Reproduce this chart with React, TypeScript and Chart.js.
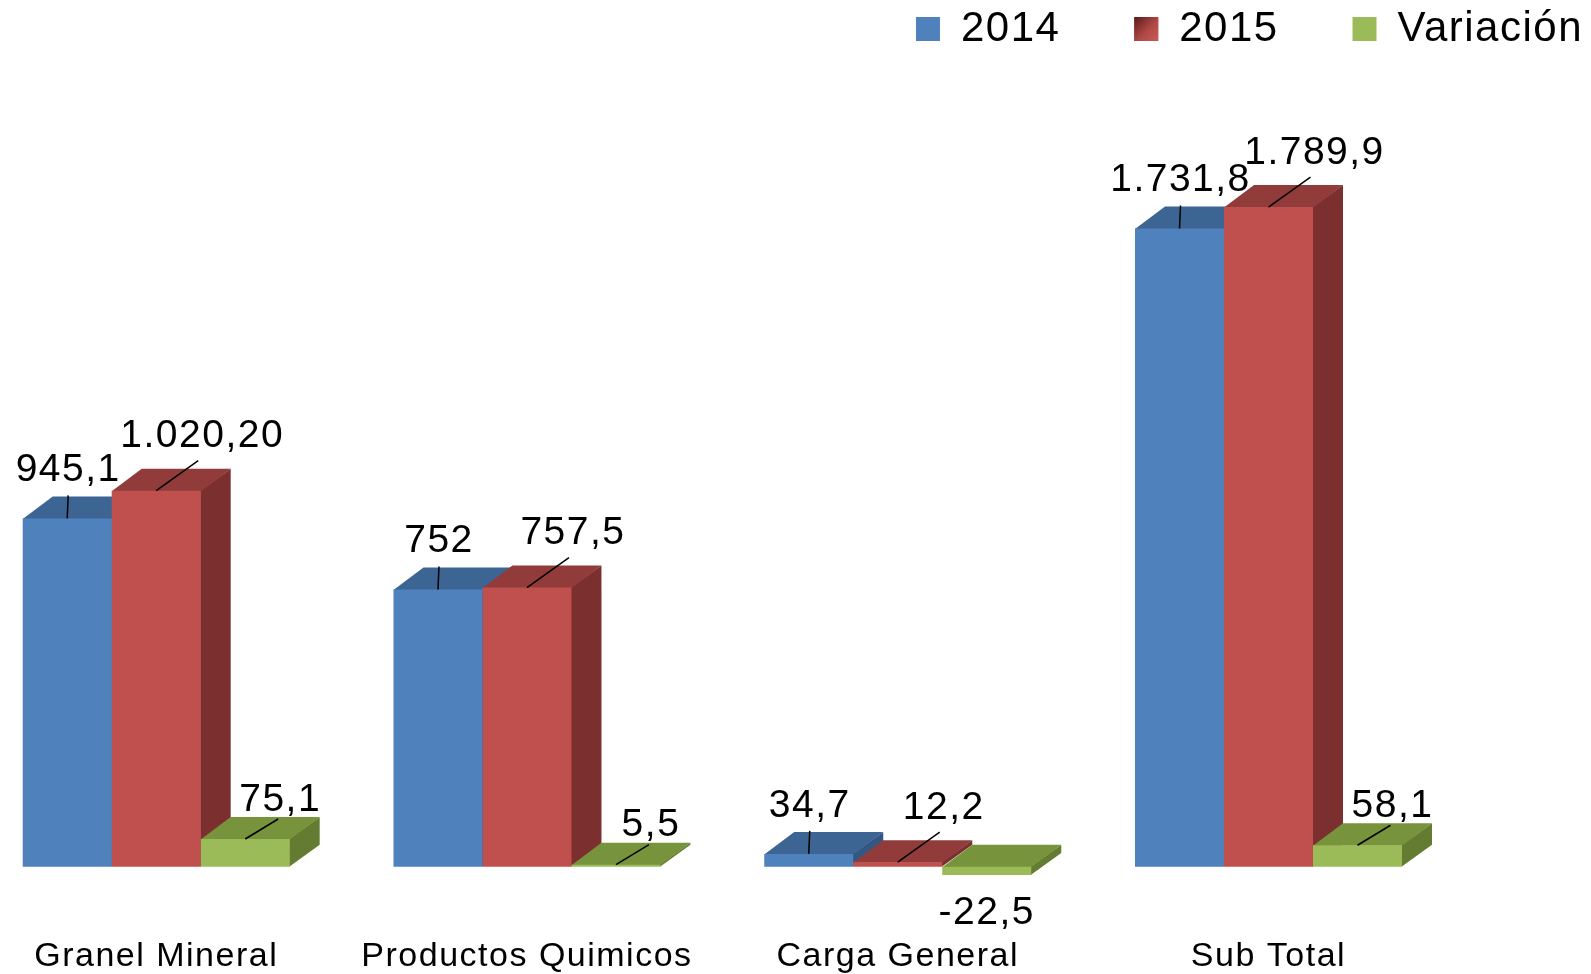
import React, { useEffect, useRef } from 'react';
import { Chart, registerables } from 'chart.js';

Chart.register(...registerables);

// ---- data ----
const categories = ['Granel Mineral', 'Productos Quimicos', 'Carga General', 'Sub Total'];
const seriesNames = ['2014', '2015', 'Variación'];
const values2014 = [945.1, 752, 34.7, 1731.8];
const values2015 = [1020.2, 757.5, 12.2, 1789.9];
const valuesVariacion = [75.1, 5.5, -22.5, 58.1];
const labels2014 = ['945,1', '752', '34,7', '1.731,8'];
const labels2015 = ['1.020,20', '757,5', '12,2', '1.789,9'];
const labelsVariacion = ['75,1', '5,5', '-22,5', '58,1'];
const Y_MIN = -199;
const Y_MAX = 2189;

// ---- styles ----
const FONT = '"Liberation Sans", Arial, sans-serif';
const FRONT = ['#4F81BD', '#C0504D', '#9BBB59'];
const TOP = ['#3D6594', '#913C3A', '#77933C'];
const SIDE = ['#345782', '#7B2F2E', '#637C32'];
const DEPTH_X = 30;
const DEPTH_Y = 22;
const LEADER = [
  { dx: 1, dy: -23, lx: 1, ly: -48 },
  { dx: 42, dy: -30, lx: 46, ly: -54 },
  { dx: 33, dy: -20, lx: 35, ly: -39 },
];
const valueLabels = [labels2014, labels2015, labelsVariacion];

const bar3d = {
  id: 'bar3d',
  beforeLayout(chart: any) {
    chart.ctx.letterSpacing = '1.5px';
  },
  beforeDraw(chart: any) {
    chart.ctx.letterSpacing = '1.5px';
  },
  beforeDatasetsDraw(chart: any) {
    const ctx = chart.ctx;
    for (let i = 0; i < categories.length; i++) {
      for (let d = 0; d < chart.data.datasets.length; d++) {
        const el = chart.getDatasetMeta(d).data[i];
        if (!el) continue;
        const { x, y, base, width } = el.getProps(['x', 'y', 'base', 'width'], true);
        const left = x - width / 2;
        const right = x + width / 2;
        const top = Math.min(y, base);
        const bottom = Math.max(y, base);
        ctx.save();
        ctx.fillStyle = SIDE[d];
        ctx.beginPath();
        ctx.moveTo(right - 0.5, top);
        ctx.lineTo(right + DEPTH_X, top - DEPTH_Y);
        ctx.lineTo(right + DEPTH_X, bottom - DEPTH_Y);
        ctx.lineTo(right - 0.5, bottom);
        ctx.closePath();
        ctx.fill();
        ctx.fillStyle = TOP[d];
        ctx.beginPath();
        ctx.moveTo(left, top + 0.5);
        ctx.lineTo(right, top + 0.5);
        ctx.lineTo(right + DEPTH_X, top - DEPTH_Y);
        ctx.lineTo(left + DEPTH_X, top - DEPTH_Y);
        ctx.closePath();
        ctx.fill();
        ctx.restore();
      }
    }
  },
  afterDatasetsDraw(chart: any) {
    const ctx = chart.ctx;
    ctx.save();
    ctx.font = `39px ${FONT}`;
    ctx.fillStyle = '#000';
    ctx.strokeStyle = '#000';
    ctx.lineWidth = 1.5;
    ctx.textAlign = 'center';
    ctx.textBaseline = 'middle';
    for (let d = 0; d < chart.data.datasets.length; d++) {
      const meta = chart.getDatasetMeta(d);
      const vals = chart.data.datasets[d].data as number[];
      for (let i = 0; i < vals.length; i++) {
        const el = meta.data[i];
        if (!el) continue;
        const { x, y, base } = el.getProps(['x', 'y', 'base'], true);
        const txt = valueLabels[d][i];
        if (vals[i] >= 0) {
          const top = Math.min(y, base);
          const L = LEADER[d];
          ctx.beginPath();
          ctx.moveTo(x, top);
          ctx.lineTo(x + L.dx, top + L.dy);
          ctx.stroke();
          ctx.fillText(txt, x + L.lx, top + L.ly);
        } else {
          const bottom = Math.max(y, base);
          ctx.fillText(txt, x, bottom + 38);
        }
      }
    }
    ctx.restore();
  },
  afterDraw(chart: any) {
    const hb = chart.legend && chart.legend.legendHitBoxes && chart.legend.legendHitBoxes[1];
    if (!hb) return;
    const ctx = chart.ctx;
    const bx = hb.left;
    const by = hb.top + (hb.height - 24) / 2;
    ctx.save();
    const g = ctx.createLinearGradient(bx, by, bx + 24, by + 24);
    g.addColorStop(0, '#5A1A19');
    g.addColorStop(0.55, '#B04845');
    g.addColorStop(1, '#C85A56');
    ctx.fillStyle = g;
    ctx.fillRect(bx, by, 24, 24);
    ctx.restore();
  },
};

export default function App() {
  const ref = useRef<HTMLCanvasElement | null>(null);

  useEffect(() => {
    if (!ref.current) return;
    const seriesData = [values2014, values2015, valuesVariacion];
    const chart = new Chart(ref.current, {
      type: 'bar',
      data: {
        labels: categories,
        datasets: seriesData.map((vals, d) => ({
          label: seriesNames[d],
          data: vals,
          backgroundColor: FRONT[d],
          borderWidth: 0,
          clip: false as any,
          categoryPercentage: 0.7201,
          barPercentage: 1,
        })),
      },
      options: {
        responsive: true,
        maintainAspectRatio: false,
        animation: false,
        events: [],
        layout: { padding: 0 },
        plugins: {
          tooltip: { enabled: false },
          legend: {
            display: true,
            position: 'top',
            align: 'end',
            labels: {
              boxWidth: 24,
              boxHeight: 24,
              padding: 8,
              color: '#000',
              font: { family: FONT, size: 42 },
              generateLabels: (chart: any) => {
                const items = Chart.defaults.plugins.legend.labels.generateLabels(chart);
                return items.map((it: any, i: number) => ({
                  ...it,
                  text: i < items.length - 1 ? it.text + '     ' : it.text,
                }));
              },
            },
          },
        },
        scales: {
          x: {
            type: 'category',
            offset: false,
            grid: { display: false, drawTicks: false },
            border: { display: false },
            ticks: {
              color: '#000',
              padding: 0,
              autoSkip: false,
              maxRotation: 0,
              font: { family: FONT, size: 34, lineHeight: 1 },
            },
          },
          y: {
            type: 'linear',
            position: 'left',
            min: Y_MIN,
            max: Y_MAX,
            grid: { display: false, drawTicks: false },
            border: { display: false },
            ticks: { display: false },
            afterFit: (s: any) => {
              s.width = 156.2;
            },
          },
          yRight: {
            type: 'linear',
            position: 'right',
            grid: { display: false, drawTicks: false },
            border: { display: false },
            ticks: { display: false },
            afterFit: (s: any) => {
              s.width = 322.5;
            },
          },
        },
      } as any,
      plugins: [bar3d],
    });
    return () => chart.destroy();
  }, []);

  return (
    <div style={{ position: 'fixed', left: 0, top: 0, width: 1591, height: 974, background: '#fff' }}>
      <canvas ref={ref} />
    </div>
  );
}
